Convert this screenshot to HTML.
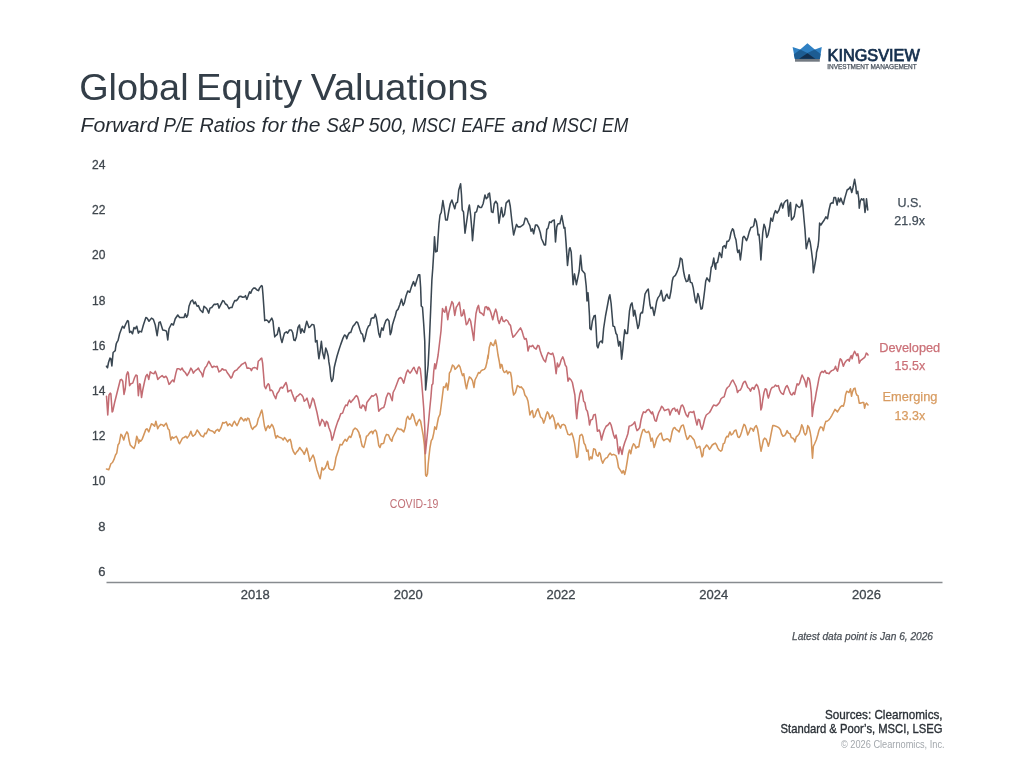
<!DOCTYPE html>
<html><head><meta charset="utf-8"><title>Global Equity Valuations</title>
<style>
html,body{margin:0;padding:0;background:#ffffff;width:1024px;height:768px;overflow:hidden}
svg{display:block;will-change:transform}
text{font-family:"Liberation Sans",Arial,sans-serif}
</style></head><body>
<svg width="1024" height="768" viewBox="0 0 1024 768">
<rect width="1024" height="768" fill="#ffffff"/>
<!-- title -->
<g font-size="36.9" fill="#333e48"><text x="79.15" y="99.7" textLength="109.44" lengthAdjust="spacingAndGlyphs">Global</text><text x="196.0" y="99.7" textLength="106.02" lengthAdjust="spacingAndGlyphs">Equity</text><text x="310.8" y="99.7" textLength="177.22" lengthAdjust="spacingAndGlyphs">Valuations</text></g>
<g font-size="19.5" font-style="italic" fill="#262c33"><text x="80.4" y="131.5" textLength="78.19" lengthAdjust="spacingAndGlyphs">Forward</text><text x="163.5" y="131.5" textLength="30.06" lengthAdjust="spacingAndGlyphs">P/E</text><text x="199.4" y="131.5" textLength="56.29" lengthAdjust="spacingAndGlyphs">Ratios</text><text x="261.6" y="131.5" textLength="24.95" lengthAdjust="spacingAndGlyphs">for</text><text x="291.22" y="131.5" textLength="29.3" lengthAdjust="spacingAndGlyphs">the</text><text x="326.28" y="131.5" textLength="37.85" lengthAdjust="spacingAndGlyphs">S&amp;P</text><text x="368.5" y="131.5" textLength="38.9" lengthAdjust="spacingAndGlyphs">500,</text><text x="411.7" y="131.5" textLength="43.97" lengthAdjust="spacingAndGlyphs">MSCI</text><text x="461.5" y="131.5" textLength="43.49" lengthAdjust="spacingAndGlyphs">EAFE</text><text x="511.6" y="131.5" textLength="35.65" lengthAdjust="spacingAndGlyphs">and</text><text x="552.1" y="131.5" textLength="44.77" lengthAdjust="spacingAndGlyphs">MSCI</text><text x="602.1" y="131.5" textLength="26.23" lengthAdjust="spacingAndGlyphs">EM</text></g>
<!-- logo -->
<g id="logo">
<polygon points="792.6,46.9 800.2,49.4 807.4,43.3 814.8,49.4 821.8,47 819.9,59 794.9,59" fill="#2f80c3"/>
<polygon points="793.8,54.4 800.2,49.4 807.4,53 814.8,49.4 820.6,54.1 819.9,59 794.9,59" fill="#1d5c92"/>
<polygon points="799.1,58.8 807.4,53.2 815.3,58.8" fill="#132f4e"/>
<rect x="795" y="59" width="24.8" height="2.7" fill="#737a82"/>
<text x="827.6" y="61.1" font-size="16.2" fill="#16304e" stroke="#16304e" stroke-width="0.75" textLength="92.2" lengthAdjust="spacingAndGlyphs">KINGSVIEW</text>
<text x="827.3" y="68.7" font-size="6.5" fill="#4a535e" stroke="#4a535e" stroke-width="0.25" textLength="89.4" lengthAdjust="spacingAndGlyphs">INVESTMENT MANAGEMENT</text>
</g>
<!-- y axis labels -->
<g font-size="13" fill="#3f464d" stroke="#3f464d" stroke-width="0.3" text-anchor="end">
<text x="105.5" y="169" textLength="13.4" lengthAdjust="spacingAndGlyphs">24</text>
<text x="105.5" y="214.2" textLength="13.4" lengthAdjust="spacingAndGlyphs">22</text>
<text x="105.5" y="259.4" textLength="13.4" lengthAdjust="spacingAndGlyphs">20</text>
<text x="105.5" y="304.6" textLength="13.4" lengthAdjust="spacingAndGlyphs">18</text>
<text x="105.5" y="349.8" textLength="13.4" lengthAdjust="spacingAndGlyphs">16</text>
<text x="105.5" y="395" textLength="13.4" lengthAdjust="spacingAndGlyphs">14</text>
<text x="105.5" y="440.2" textLength="13.4" lengthAdjust="spacingAndGlyphs">12</text>
<text x="105.5" y="485.4" textLength="13.4" lengthAdjust="spacingAndGlyphs">10</text>
<text x="105.5" y="530.6">8</text>
<text x="105.5" y="575.8">6</text>
</g>
<!-- x axis -->
<line x1="106.5" y1="582.5" x2="942.5" y2="582.5" stroke="#878b8f" stroke-width="1.3"/>
<g font-size="13" fill="#3f464d" stroke="#3f464d" stroke-width="0.3" text-anchor="middle">
<text x="255.2" y="599.3">2018</text>
<text x="408.2" y="599.3">2020</text>
<text x="561" y="599.3">2022</text>
<text x="713.8" y="599.3">2024</text>
<text x="866.5" y="599.3">2026</text>
</g>
<text x="933" y="640.4" font-size="10.2" font-style="italic" fill="#4a5057" stroke="#4a5057" stroke-width="0.25" text-anchor="end" textLength="141" lengthAdjust="spacingAndGlyphs">Latest data point is Jan 6, 2026</text>
<!-- series labels -->
<g text-anchor="middle" font-size="12.5" stroke-width="0.25">
<text x="909.7" y="206.7" fill="#434e59" stroke="#434e59">U.S.</text>
<text x="909.6" y="225.1" fill="#434e59" stroke="#434e59">21.9x</text>
<text x="909.7" y="351.5" fill="#cb7178" stroke="#cb7178" textLength="61" lengthAdjust="spacingAndGlyphs">Developed</text>
<text x="909.9" y="370.3" fill="#cb7178" stroke="#cb7178">15.5x</text>
<text x="910" y="401" fill="#d89c62" stroke="#d89c62" textLength="55" lengthAdjust="spacingAndGlyphs">Emerging</text>
<text x="909.9" y="419.8" fill="#d89c62" stroke="#d89c62">13.3x</text>
<text x="414.1" y="507.7" fill="#c27379" stroke="none" font-size="12.7" textLength="48.6" lengthAdjust="spacingAndGlyphs">COVID-19</text>
</g>
<!-- sources -->
<g text-anchor="end">
<text x="942.6" y="719.4" font-size="12.8" fill="#2b3137" stroke="#2b3137" stroke-width="0.35" textLength="117.6" lengthAdjust="spacingAndGlyphs">Sources: Clearnomics,</text>
<text x="942.6" y="732.5" font-size="12.8" fill="#2b3137" stroke="#2b3137" stroke-width="0.35" textLength="162" lengthAdjust="spacingAndGlyphs">Standard &amp; Poor’s, MSCI, LSEG</text>
<text x="944.6" y="747.7" font-size="10" fill="#a3a8ad" textLength="103.6" lengthAdjust="spacingAndGlyphs">© 2026 Clearnomics, Inc.</text>
</g>
<!-- SERIES -->
<path d="M106.50,469.00 L108.75,469.75 L109.62,467.50 L110.88,463.75 L112.50,462.50 L114.00,459.38 L115.50,455.00 L116.75,453.12 L118.00,445.00 L119.25,443.12 L120.88,434.38 L122.12,435.62 L123.75,440.00 L125.25,435.00 L126.88,431.88 L128.00,433.75 L129.00,440.00 L130.25,445.00 L132.12,446.88 L134.00,448.50 L135.25,445.00 L136.75,436.25 L137.75,438.75 L138.75,443.12 L139.62,440.00 L140.62,441.25 L142.12,439.38 L144.00,434.38 L145.88,429.38 L147.12,428.75 L148.75,431.88 L150.25,427.50 L151.50,423.75 L152.75,424.38 L154.62,426.25 L155.88,421.25 L156.50,423.75 L157.75,428.75 L159.00,426.25 L160.88,424.38 L162.75,425.00 L163.75,426.25 L164.62,425.00 L166.12,423.12 L167.12,425.62 L168.00,428.75 L169.25,430.00 L170.25,436.88 L170.88,440.00 L172.12,436.88 L173.38,438.12 L174.62,437.50 L176.25,436.25 L177.50,438.75 L178.75,442.50 L179.62,443.75 L180.88,441.25 L182.50,438.12 L184.00,437.50 L185.88,436.25 L187.12,438.12 L189.00,435.62 L190.88,431.25 L192.12,435.00 L193.00,436.25 L195.25,434.38 L197.12,430.00 L199.00,432.50 L200.88,435.62 L203.38,436.88 L205.00,433.12 L206.25,433.75 L208.38,428.75 L210.25,430.62 L212.75,431.25 L214.62,433.12 L215.88,430.62 L217.75,429.38 L219.00,431.25 L220.88,428.12 L222.75,422.50 L224.00,423.12 L226.25,421.88 L227.75,425.62 L229.62,423.75 L232.00,426.25 L233.25,423.12 L234.50,421.25 L235.75,423.75 L237.00,425.62 L238.25,423.12 L239.50,420.00 L241.00,417.50 L242.62,419.38 L243.88,421.00 L245.12,418.75 L246.38,420.62 L247.62,418.12 L248.88,418.75 L250.12,423.12 L251.38,427.50 L252.62,429.38 L253.88,427.50 L255.75,426.25 L257.00,424.38 L258.25,418.75 L259.50,416.25 L260.75,412.50 L261.75,410.00 L262.62,413.75 L263.50,420.00 L264.50,426.25 L265.75,430.62 L267.00,427.50 L268.25,425.62 L269.50,428.12 L270.75,426.25 L271.75,424.38 L273.00,426.25 L274.25,430.00 L275.12,435.00 L276.00,438.12 L277.25,435.62 L278.50,436.88 L280.12,437.50 L281.75,438.12 L283.25,440.00 L284.50,437.50 L286.00,439.38 L287.62,441.88 L288.88,440.00 L290.12,439.38 L291.00,441.88 L292.00,447.50 L293.25,451.25 L295.12,454.38 L296.75,451.88 L298.00,450.62 L299.75,447.50 L301.00,449.38 L302.62,451.25 L304.25,454.38 L305.75,450.62 L306.75,448.12 L307.62,451.25 L308.50,455.00 L309.75,461.25 L311.00,458.75 L313.00,455.00 L314.25,458.12 L315.50,463.75 L317.00,470.00 L318.88,475.62 L320.12,478.75 L321.00,473.75 L322.00,467.50 L323.25,470.00 L325.12,468.12 L326.38,465.00 L327.62,461.25 L328.88,468.12 L330.12,469.38 L332.00,470.00 L333.50,469.38 L334.75,465.00 L336.00,457.50 L337.25,453.75 L338.50,450.00 L340.12,444.38 L342.00,445.00 L343.50,441.88 L345.12,439.38 L346.75,441.25 L348.25,438.12 L349.50,436.25 L350.75,437.50 L352.00,434.38 L353.25,430.00 L355.12,428.12 L357.00,429.38 L358.88,432.50 L360.00,437.50 L360.00,435.00 L361.00,441.25 L362.25,446.25 L363.75,447.50 L365.00,443.12 L366.50,436.25 L367.75,435.62 L369.00,433.75 L370.62,431.88 L371.88,431.25 L372.75,433.75 L373.75,431.25 L375.25,430.00 L376.50,431.88 L377.75,438.75 L378.75,445.62 L380.00,447.50 L381.25,443.75 L382.50,443.75 L383.75,443.12 L385.00,437.50 L386.50,434.38 L388.50,435.00 L390.00,438.75 L391.88,441.25 L392.75,437.50 L394.00,435.00 L395.62,431.88 L397.50,428.12 L399.38,429.38 L401.25,429.38 L402.50,430.62 L403.75,431.88 L405.25,427.50 L406.50,418.75 L407.75,416.25 L409.38,419.38 L410.62,418.75 L412.25,413.75 L413.75,416.25 L415.00,421.25 L416.50,425.62 L417.75,421.88 L419.38,419.38 L420.62,421.25 L421.88,428.12 L423.12,435.00 L424.38,445.00 L425.00,455.00 L425.62,475.00 L426.50,476.25 L427.50,473.75 L428.12,465.00 L429.00,456.25 L430.00,447.50 L431.25,440.62 L432.50,438.75 L433.75,433.12 L434.75,426.88 L436.25,429.38 L437.50,422.50 L438.50,417.50 L440.00,414.38 L441.25,405.00 L442.50,395.00 L443.50,386.88 L445.00,387.50 L446.50,383.12 L447.75,390.00 L449.00,380.62 L449.38,373.12 L450.62,371.25 L452.50,365.00 L454.00,366.25 L455.00,369.38 L456.88,367.50 L458.75,365.00 L460.00,366.88 L461.50,372.50 L462.50,375.62 L463.75,373.75 L465.62,385.00 L466.50,388.75 L467.75,382.50 L469.38,376.88 L471.00,378.12 L472.50,380.62 L474.00,387.50 L475.00,380.00 L476.88,376.25 L478.50,372.50 L479.75,373.12 L481.25,370.62 L482.50,370.00 L484.38,369.38 L485.62,367.50 L486.88,362.50 L488.00,355.00 L488.00,358.75 L489.25,347.50 L490.75,342.50 L492.38,345.00 L493.62,345.62 L495.50,340.00 L496.75,346.25 L498.00,355.00 L499.25,361.25 L500.25,368.12 L501.12,364.38 L502.00,365.00 L503.00,370.00 L504.25,372.50 L505.50,371.88 L506.50,370.62 L507.75,373.75 L509.00,371.88 L510.50,372.50 L511.50,377.50 L512.38,387.50 L513.62,395.00 L515.50,392.50 L517.38,385.62 L518.62,386.25 L519.88,387.50 L521.12,386.88 L522.75,388.75 L523.62,390.00 L524.88,395.00 L526.75,397.50 L528.00,401.25 L529.00,408.12 L529.88,415.00 L531.12,411.88 L532.38,410.62 L533.62,417.50 L534.88,416.25 L536.50,411.25 L538.00,408.75 L539.25,412.50 L540.50,416.88 L542.38,418.75 L543.62,423.12 L544.88,420.00 L546.12,415.00 L547.38,411.88 L548.62,413.75 L549.88,418.75 L551.12,416.88 L552.38,415.00 L553.62,417.50 L554.88,422.50 L555.75,428.75 L556.75,425.00 L558.00,423.12 L559.25,425.62 L560.50,428.12 L561.75,425.00 L563.62,424.38 L565.25,425.62 L566.12,428.75 L568.00,434.38 L569.88,435.00 L571.75,433.12 L573.25,437.50 L574.50,443.12 L575.50,450.00 L576.50,457.50 L577.75,456.88 L579.00,442.50 L579.88,435.62 L581.75,434.38 L582.75,436.25 L584.00,443.12 L585.25,445.00 L586.75,451.25 L588.00,450.00 L589.25,460.00 L590.75,456.88 L592.00,458.75 L593.62,448.75 L595.25,449.38 L596.50,455.00 L598.00,456.25 L599.25,452.50 L600.25,453.75 L601.50,460.00 L602.75,463.12 L604.25,460.00 L605.75,458.12 L607.38,457.50 L608.62,455.00 L610.25,453.12 L611.75,455.00 L613.62,454.38 L616.00,455.62 L617.25,460.00 L618.50,467.50 L619.75,469.38 L621.00,471.25 L622.00,473.12 L623.25,470.62 L624.75,474.38 L626.00,468.75 L627.25,461.25 L628.50,453.12 L629.50,450.00 L630.75,453.75 L632.00,447.50 L633.50,443.75 L634.75,445.00 L636.00,448.12 L637.25,446.88 L638.75,446.88 L640.00,440.00 L641.62,433.75 L642.88,430.00 L644.12,429.38 L645.38,431.88 L647.00,432.50 L648.50,431.25 L649.75,434.38 L651.00,441.25 L652.25,438.12 L653.25,442.50 L654.12,447.50 L655.38,443.75 L656.62,438.75 L658.50,435.62 L660.00,433.75 L661.25,433.12 L662.50,438.75 L663.75,440.62 L665.38,439.38 L667.00,438.75 L668.50,439.38 L670.00,441.88 L671.00,437.50 L672.25,431.25 L673.50,428.12 L674.75,427.50 L676.00,429.38 L677.88,430.62 L679.12,431.88 L680.38,428.12 L681.62,425.62 L683.25,425.00 L684.50,429.38 L685.75,435.00 L687.25,439.38 L688.50,438.12 L689.75,435.62 L691.00,436.25 L692.50,438.12 L694.12,440.00 L695.38,444.38 L696.62,448.12 L698.50,446.88 L699.75,446.25 L700.75,450.62 L702.00,456.88 L702.88,455.62 L703.75,448.75 L705.00,447.50 L706.62,445.00 L707.88,446.25 L709.50,449.38 L710.75,447.50 L712.25,445.00 L714.12,443.75 L715.38,443.12 L716.62,445.00 L717.88,448.12 L719.12,450.00 L720.75,451.25 L722.00,450.00 L723.25,443.75 L724.50,443.12 L725.75,438.12 L727.00,436.25 L728.25,436.88 L729.12,433.75 L730.00,431.88 L731.25,435.00 L732.88,433.75 L734.50,430.62 L736.00,430.00 L737.00,433.75 L737.88,436.88 L739.12,437.50 L740.38,435.62 L741.62,431.88 L742.88,427.50 L744.00,424.38 L745.25,425.62 L746.50,430.00 L747.75,435.00 L749.25,431.88 L750.50,428.12 L752.12,428.75 L753.38,431.25 L754.62,427.50 L756.25,425.62 L757.50,428.75 L758.75,436.25 L760.00,445.00 L761.00,451.25 L762.12,446.25 L763.38,440.00 L764.62,438.12 L766.25,439.38 L767.50,443.12 L768.38,446.25 L769.62,441.88 L770.88,435.00 L772.75,425.62 L774.25,425.62 L775.88,426.25 L777.50,426.88 L779.25,428.12 L780.50,430.00 L781.50,433.75 L783.00,436.25 L784.62,435.62 L785.88,433.75 L787.12,430.62 L788.38,433.12 L790.00,433.75 L791.25,437.50 L792.75,438.12 L794.00,439.38 L795.00,441.88 L796.25,436.88 L797.75,435.62 L799.25,433.75 L800.50,430.00 L801.75,424.75 L803.00,427.50 L804.00,432.50 L805.25,435.00 L806.50,433.12 L807.75,425.62 L809.00,427.50 L810.25,432.50 L811.25,438.75 L811.88,450.00 L812.50,458.12 L813.38,446.25 L814.62,443.75 L816.25,440.00 L817.75,435.00 L819.00,430.00 L820.50,426.88 L822.12,427.50 L823.38,430.62 L824.62,425.00 L825.88,421.25 L827.12,421.25 L828.75,420.00 L830.25,418.12 L831.75,415.62 L833.38,412.50 L835.00,409.38 L836.25,410.62 L837.50,411.88 L839.00,409.38 L840.50,406.88 L842.12,405.62 L843.38,406.25 L844.62,401.88 L845.50,395.00 L846.75,391.25 L848.00,391.88 L849.00,392.50 L850.50,388.75 L851.50,396.25 L852.50,391.88 L853.75,388.75 L855.00,388.12 L855.88,392.50 L856.75,395.00 L858.00,395.62 L859.25,403.12 L860.88,403.12 L862.50,402.50 L863.75,402.50 L864.62,408.12 L865.50,404.38 L866.50,403.12 L868.00,405.00" fill="none" stroke="#d4965c" stroke-width="1.55" stroke-linejoin="round" stroke-linecap="round"/>
<path d="M106.50,396.25 L107.75,415.00 L109.00,395.00 L110.25,393.12 L110.88,393.75 L112.12,411.88 L112.75,411.25 L114.62,402.50 L116.50,395.00 L118.38,387.50 L120.25,380.00 L121.50,379.38 L122.75,381.25 L124.00,394.38 L125.25,388.75 L126.50,375.00 L127.75,371.88 L128.38,373.12 L129.62,385.62 L130.88,383.75 L132.75,383.12 L134.62,377.50 L135.88,375.00 L137.12,375.62 L138.38,395.62 L139.62,383.75 L140.25,384.38 L141.50,397.50 L142.75,390.00 L144.62,381.25 L145.88,376.25 L147.12,374.38 L147.75,375.62 L148.75,379.38 L150.25,371.88 L152.12,373.12 L154.00,373.75 L155.25,371.25 L156.50,374.38 L157.75,379.38 L159.62,377.50 L162.12,375.62 L164.00,377.50 L165.88,376.25 L167.12,378.12 L169.00,384.38 L170.25,383.12 L171.50,381.25 L172.75,380.00 L174.00,381.88 L175.88,373.12 L177.12,368.75 L179.00,368.75 L180.50,370.00 L182.12,368.12 L183.38,370.62 L185.25,372.50 L187.12,375.62 L189.00,372.50 L190.88,368.12 L192.12,370.00 L193.38,373.12 L195.25,370.62 L197.12,369.38 L198.38,368.12 L199.62,370.62 L201.50,373.12 L202.75,376.88 L204.00,370.62 L205.25,367.50 L206.50,366.25 L208.75,361.25 L210.25,363.75 L212.12,367.50 L214.00,366.25 L215.88,366.88 L217.12,366.25 L219.00,371.88 L220.88,370.62 L222.12,368.75 L224.00,370.00 L225.88,370.00 L227.12,372.50 L229.00,375.00 L230.88,378.12 L232.00,376.88 L233.50,372.50 L235.12,370.62 L236.75,370.00 L238.25,368.12 L240.12,366.25 L241.75,364.38 L243.50,363.50 L245.12,362.25 L246.00,364.38 L247.00,368.12 L248.88,368.12 L250.50,368.75 L251.38,370.62 L252.62,368.12 L254.50,367.50 L256.38,368.12 L257.25,369.38 L258.25,361.25 L259.75,360.00 L260.75,358.75 L261.75,358.12 L262.62,363.12 L263.50,373.75 L264.50,386.25 L265.75,388.75 L267.00,385.62 L268.25,383.75 L269.25,385.00 L270.12,390.62 L271.38,390.00 L272.62,391.25 L273.88,395.00 L275.75,398.75 L277.00,393.75 L278.88,391.25 L280.12,388.12 L281.38,387.25 L282.62,388.12 L284.50,385.00 L286.00,382.50 L287.00,385.62 L287.88,391.88 L289.50,390.62 L291.00,390.00 L292.25,393.75 L293.88,398.12 L295.12,401.25 L296.38,396.88 L298.25,395.62 L300.12,393.75 L301.75,395.00 L303.00,396.88 L304.25,401.25 L305.75,400.00 L307.00,398.12 L308.25,402.50 L309.75,408.12 L310.75,405.00 L312.62,398.12 L313.88,400.00 L315.12,405.00 L317.00,412.50 L318.25,418.75 L319.75,425.62 L320.75,423.12 L322.00,419.38 L323.88,421.88 L325.12,426.25 L326.38,421.25 L327.62,422.50 L328.88,427.50 L330.75,432.50 L332.00,440.25 L333.25,436.88 L334.50,431.88 L335.75,427.50 L337.62,421.88 L339.25,418.12 L340.75,413.75 L342.62,413.12 L344.25,408.12 L345.75,405.00 L347.25,405.62 L348.25,402.50 L349.50,400.00 L350.75,402.50 L352.25,400.62 L353.88,398.75 L355.12,396.88 L356.38,395.62 L357.62,396.88 L358.88,401.25 L360.00,407.50 L361.25,408.12 L362.50,405.00 L364.38,406.25 L365.62,410.62 L366.88,402.50 L368.75,400.00 L370.62,397.50 L371.88,395.62 L373.12,396.25 L374.75,395.00 L376.00,393.75 L377.25,397.50 L378.75,411.25 L380.25,409.38 L381.88,408.12 L383.75,407.50 L385.00,403.75 L386.25,397.50 L388.12,393.12 L389.75,393.75 L391.00,397.50 L392.25,400.62 L393.12,392.50 L395.00,388.75 L396.88,383.75 L398.75,378.75 L400.62,377.50 L401.88,378.75 L403.75,383.12 L405.00,378.12 L406.50,372.50 L407.75,370.00 L409.00,371.88 L410.00,373.12 L411.50,371.25 L412.75,368.75 L414.00,367.25 L415.00,370.00 L416.88,373.75 L418.12,368.12 L419.00,366.88 L420.25,368.75 L421.25,377.50 L422.50,392.50 L423.75,408.75 L424.75,427.50 L425.38,453.75 L428.50,422.50 L429.75,408.75 L431.00,396.25 L431.88,385.00 L432.88,383.75 L433.75,371.25 L434.75,363.75 L435.62,368.75 L436.50,364.38 L438.12,355.00 L441.00,331.00 L442.50,308.50 L443.50,311.00 L444.75,312.25 L446.00,306.62 L446.88,312.25 L447.75,319.75 L448.75,312.88 L450.00,308.50 L451.88,301.62 L453.12,303.50 L454.75,315.38 L456.25,307.25 L457.50,305.38 L459.38,302.25 L460.25,308.50 L461.25,316.00 L462.50,315.38 L463.75,309.75 L464.75,314.75 L466.25,324.75 L467.50,323.50 L469.38,318.50 L470.62,321.00 L471.88,328.50 L473.12,336.00 L473.75,340.38 L474.75,326.00 L476.00,313.50 L477.50,307.25 L478.50,305.38 L479.75,312.25 L481.88,313.50 L483.75,315.38 L485.00,307.25 L486.25,306.62 L488.00,309.75 L488.00,307.25 L489.25,308.50 L490.75,312.25 L492.75,319.75 L494.25,313.50 L495.75,309.12 L496.75,312.25 L498.00,319.75 L499.25,323.50 L500.50,319.75 L501.75,316.62 L503.00,321.00 L504.25,321.62 L506.12,319.75 L507.75,321.00 L509.25,324.12 L510.50,325.38 L511.75,332.25 L513.00,337.25 L514.88,335.38 L516.75,332.88 L518.62,330.38 L520.50,327.88 L522.00,331.00 L523.25,335.38 L524.50,339.12 L526.12,338.50 L527.00,342.25 L528.00,351.00 L529.50,346.00 L531.12,346.62 L532.75,345.38 L534.25,347.88 L536.12,349.12 L537.75,345.38 L539.00,346.00 L540.25,351.00 L541.75,355.38 L543.62,359.75 L545.50,361.88 L546.75,356.25 L548.25,352.50 L549.88,353.75 L551.12,354.38 L552.75,353.12 L554.25,358.12 L555.25,366.25 L556.12,373.75 L557.38,363.12 L558.62,366.88 L559.88,364.38 L561.12,360.00 L562.75,356.88 L564.00,360.00 L565.25,365.00 L566.50,366.88 L567.38,375.00 L568.00,381.25 L569.25,378.12 L571.12,380.00 L572.38,382.50 L573.62,388.75 L574.88,395.00 L576.12,412.50 L576.75,418.75 L578.00,405.00 L579.88,393.75 L581.12,390.00 L582.38,392.50 L583.62,401.25 L584.88,402.50 L586.12,409.38 L587.38,411.25 L588.62,417.50 L589.50,425.00 L590.75,420.00 L592.38,419.38 L593.62,415.00 L595.25,414.38 L596.12,420.00 L597.38,431.25 L599.25,430.00 L600.25,433.12 L601.50,440.00 L602.75,435.00 L604.25,430.00 L606.12,426.25 L608.00,425.00 L609.88,422.50 L611.12,425.00 L612.38,430.00 L613.62,435.00 L614.88,438.12 L616.00,435.00 L617.00,440.00 L617.88,448.75 L618.75,453.75 L620.00,446.88 L621.00,450.00 L622.00,454.38 L623.25,447.50 L624.75,442.50 L626.62,437.50 L627.88,433.75 L629.12,426.25 L631.00,425.62 L632.88,424.38 L634.75,421.88 L636.00,427.50 L637.00,430.62 L638.50,429.38 L639.75,427.50 L641.00,420.00 L642.25,415.00 L643.50,411.88 L645.38,412.50 L647.25,410.00 L648.75,409.38 L650.00,411.25 L651.62,413.75 L652.50,411.88 L653.75,416.25 L655.00,420.62 L656.25,421.25 L657.50,416.25 L658.75,412.50 L660.38,409.38 L661.62,406.25 L662.88,407.50 L664.50,410.62 L666.00,410.00 L667.50,409.38 L668.75,409.38 L670.00,415.00 L671.25,411.25 L672.88,408.75 L674.50,408.12 L675.75,411.25 L677.25,409.38 L678.25,412.50 L679.12,414.38 L680.00,410.00 L681.25,405.62 L682.50,405.00 L683.75,407.50 L685.00,411.88 L686.25,415.00 L687.88,416.88 L689.12,412.50 L690.75,411.88 L692.25,412.50 L693.75,411.25 L695.00,416.88 L696.00,421.25 L697.00,425.00 L698.25,419.38 L699.50,420.00 L700.75,426.25 L702.00,429.38 L703.25,425.00 L704.75,418.75 L706.25,415.00 L707.88,413.75 L709.50,412.50 L711.00,410.00 L712.50,406.88 L713.75,405.00 L715.38,405.62 L716.62,405.62 L717.88,404.38 L719.50,402.50 L721.00,398.75 L722.50,397.50 L724.12,396.88 L725.00,393.75 L726.25,389.38 L727.50,387.50 L729.12,386.25 L730.38,383.75 L731.62,381.25 L732.88,380.00 L734.12,382.50 L735.38,385.00 L736.25,386.88 L737.50,392.50 L738.75,390.62 L740.38,390.00 L741.62,387.50 L742.88,383.75 L744.00,381.88 L745.25,381.25 L746.50,384.38 L747.75,387.50 L749.25,388.75 L750.50,391.25 L751.75,388.12 L753.00,387.50 L754.00,389.38 L755.25,386.25 L756.50,384.38 L757.75,386.25 L759.00,390.62 L760.00,397.50 L760.88,410.00 L761.75,407.50 L762.75,400.00 L764.00,392.50 L765.25,388.75 L766.50,389.38 L767.50,395.00 L768.38,398.12 L769.62,393.75 L770.88,389.38 L772.12,387.50 L774.00,386.88 L775.50,385.00 L776.75,386.25 L778.38,385.62 L779.62,390.00 L780.88,392.50 L782.12,393.75 L783.38,394.38 L784.62,390.00 L785.88,386.88 L787.12,385.62 L788.38,388.12 L789.62,391.88 L790.88,394.38 L792.12,395.00 L793.38,392.50 L794.62,394.38 L795.88,388.75 L797.12,383.75 L798.38,385.00 L799.62,383.12 L800.88,378.75 L802.12,375.00 L803.38,377.50 L805.00,381.25 L806.25,386.88 L807.12,381.88 L808.00,377.50 L809.25,378.75 L810.25,383.75 L811.25,392.50 L811.75,402.50 L812.12,412.50 L812.25,416.50 L813.75,405.00 L815.00,400.00 L816.25,392.50 L817.75,385.00 L819.00,378.12 L820.50,373.12 L822.12,371.25 L823.38,372.50 L825.00,370.62 L826.25,373.12 L827.50,373.12 L829.00,373.75 L830.25,371.88 L831.75,370.62 L833.38,370.00 L834.62,368.75 L835.50,366.25 L836.50,369.38 L837.50,371.25 L838.38,367.50 L839.25,362.50 L840.25,358.75 L841.50,360.00 L842.75,364.38 L843.38,366.25 L844.62,363.12 L845.88,361.25 L847.12,360.00 L848.38,359.38 L849.25,361.25 L850.25,357.50 L851.25,355.62 L852.12,358.75 L853.00,355.00 L854.62,351.25 L855.88,353.75 L856.75,355.62 L857.75,353.75 L858.38,356.25 L859.25,363.12 L860.50,360.62 L862.12,359.38 L863.75,358.12 L865.00,356.88 L866.25,353.12 L867.12,353.75 L868.00,355.00" fill="none" stroke="#c36c73" stroke-width="1.55" stroke-linejoin="round" stroke-linecap="round"/>
<path d="M106.50,366.25 L107.50,367.75 L108.50,362.50 L110.00,358.12 L110.88,358.75 L111.88,366.00 L113.12,352.50 L114.25,351.50 L115.25,350.62 L115.62,347.50 L116.25,343.75 L117.12,341.88 L118.00,340.62 L119.62,333.75 L121.50,328.75 L122.50,326.25 L124.00,328.12 L125.88,323.75 L127.50,320.62 L128.38,321.25 L129.62,332.50 L130.88,331.25 L132.50,333.75 L134.00,327.50 L135.25,328.75 L136.75,326.25 L138.38,333.12 L139.62,331.25 L141.50,331.88 L143.38,325.00 L145.88,317.50 L147.12,318.12 L149.00,321.25 L151.50,318.12 L153.38,319.38 L155.25,325.00 L157.12,335.62 L159.00,322.50 L160.25,321.88 L162.75,330.00 L165.25,330.62 L166.50,331.25 L167.75,340.00 L169.00,328.75 L171.50,323.75 L173.38,325.00 L175.25,318.75 L177.75,315.00 L179.62,317.50 L184.00,317.50 L185.25,313.75 L186.50,317.25 L187.75,315.00 L189.00,306.25 L190.88,301.25 L192.50,300.00 L194.00,303.75 L195.25,301.88 L197.12,306.25 L198.38,305.62 L200.25,310.00 L202.75,312.50 L204.00,306.25 L205.50,307.50 L206.75,308.75 L208.75,313.12 L210.00,308.12 L211.75,307.50 L214.00,304.38 L215.88,304.38 L217.75,303.75 L219.00,308.12 L220.88,304.38 L222.75,300.62 L224.00,301.25 L225.25,303.75 L227.12,305.00 L229.00,308.75 L230.25,307.50 L232.00,307.50 L233.25,303.75 L234.75,300.62 L236.38,300.62 L237.62,299.38 L239.25,296.50 L240.75,296.25 L242.62,297.25 L244.50,296.88 L245.50,295.62 L246.75,299.38 L248.00,296.25 L249.50,291.88 L250.75,293.12 L252.00,290.00 L253.50,288.12 L255.12,288.12 L257.00,290.00 L258.50,290.62 L259.50,288.12 L261.38,285.62 L262.25,286.25 L263.00,295.00 L263.88,307.50 L264.75,320.62 L266.38,320.00 L267.62,320.62 L268.88,322.50 L270.12,320.62 L271.75,318.12 L273.00,321.25 L273.88,330.00 L274.75,336.88 L275.75,335.62 L277.25,334.38 L278.88,327.50 L279.75,331.25 L280.75,338.12 L282.00,342.50 L283.25,337.50 L284.50,333.12 L286.38,331.88 L287.62,333.12 L289.50,330.00 L291.38,330.00 L292.62,332.50 L293.88,340.00 L295.12,340.62 L296.38,336.88 L298.00,327.50 L299.50,325.00 L300.75,333.12 L302.00,328.75 L303.25,331.25 L304.25,332.50 L305.50,326.25 L306.75,321.25 L307.62,323.75 L308.88,327.50 L310.12,326.88 L312.00,324.38 L313.88,325.00 L314.75,330.00 L315.50,341.88 L317.00,340.62 L318.00,351.25 L318.88,358.75 L320.12,351.25 L321.38,341.25 L322.62,352.50 L324.25,358.75 L325.75,348.12 L327.00,351.25 L328.25,356.25 L328.88,361.88 L329.75,366.88 L330.75,377.50 L331.75,381.50 L333.00,378.75 L334.25,367.50 L335.12,363.75 L337.00,356.25 L338.88,350.00 L340.75,344.38 L343.00,338.12 L344.50,335.00 L345.75,335.62 L346.75,338.75 L348.00,335.00 L349.50,332.50 L350.75,332.50 L352.00,328.75 L353.00,326.25 L354.75,324.38 L356.38,321.88 L357.62,322.50 L358.88,326.25 L360.00,330.00 L361.25,333.50 L362.50,334.12 L364.00,341.62 L365.25,337.25 L366.88,329.75 L368.50,326.00 L369.75,325.38 L371.25,318.50 L372.50,317.88 L374.00,317.88 L375.25,314.12 L376.25,317.25 L377.50,324.75 L378.75,333.50 L380.00,337.25 L381.00,331.00 L381.88,327.88 L383.12,330.38 L384.38,324.75 L386.00,320.38 L387.50,319.12 L389.00,321.00 L390.25,334.75 L391.25,332.25 L392.50,324.75 L394.00,319.75 L395.25,316.00 L396.50,311.00 L398.12,309.12 L399.75,304.75 L401.50,299.12 L403.12,305.38 L404.38,302.88 L406.00,296.00 L407.75,291.00 L409.75,292.25 L411.50,286.62 L413.50,281.62 L415.00,286.00 L416.88,279.75 L418.50,274.75 L419.75,274.75 L420.62,287.25 L421.25,306.00 L422.50,307.25 L423.75,324.75 L424.75,341.00 L425.62,390.00 L426.88,377.50 L428.12,365.00 L429.38,341.00 L430.62,311.00 L431.88,280.00 L432.75,268.50 L433.88,250.00 L434.50,236.88 L435.62,251.88 L437.12,251.25 L438.12,236.25 L439.00,223.75 L440.00,215.00 L441.25,212.50 L442.88,200.62 L444.38,210.00 L445.62,220.00 L447.25,220.00 L448.75,211.25 L450.25,203.75 L451.88,200.00 L453.50,205.00 L454.75,208.75 L456.00,203.12 L457.50,202.25 L458.75,190.00 L460.62,183.75 L461.50,195.00 L462.25,210.00 L463.50,211.88 L465.00,233.12 L466.88,220.00 L468.50,208.75 L469.38,205.00 L470.62,215.00 L471.88,230.00 L472.50,240.62 L473.75,226.25 L475.00,212.50 L476.50,211.88 L478.12,205.62 L480.00,207.50 L481.50,207.50 L483.12,203.75 L485.00,195.00 L486.25,198.75 L488.00,196.88 L488.00,194.38 L489.50,193.12 L490.50,201.25 L491.50,211.88 L493.00,212.50 L494.25,203.75 L495.75,201.25 L497.38,203.75 L499.00,223.12 L500.25,215.00 L501.50,207.50 L503.00,216.88 L504.50,214.38 L506.12,203.12 L507.75,201.25 L509.00,200.00 L510.25,206.25 L511.75,220.00 L513.62,235.00 L515.25,228.75 L516.50,224.38 L518.00,226.88 L520.25,226.88 L522.00,225.62 L523.62,224.38 L525.25,218.12 L526.75,218.75 L528.25,222.50 L529.88,225.62 L531.12,231.25 L532.38,228.75 L533.62,233.75 L535.50,225.00 L537.00,225.00 L538.62,227.50 L540.25,232.50 L541.50,238.75 L543.00,241.88 L544.25,245.00 L545.50,245.00 L546.75,229.38 L548.00,228.12 L549.50,221.88 L551.12,222.50 L552.38,220.62 L554.25,220.00 L555.50,241.88 L556.75,226.88 L558.00,223.75 L559.88,223.75 L561.75,215.62 L563.00,222.50 L564.00,228.12 L564.88,227.50 L566.10,243.40 L567.50,265.50 L569.30,249.00 L570.00,247.70 L571.20,252.00 L573.10,284.70 L574.50,273.90 L576.40,284.70 L579.20,271.00 L580.60,255.20 L582.00,270.20 L584.80,273.40 L586.20,286.00 L586.50,291.00 L587.00,301.00 L588.00,292.88 L588.62,301.00 L589.50,316.00 L589.88,328.50 L591.12,329.75 L592.38,321.00 L594.00,316.00 L595.25,315.38 L596.12,328.50 L597.00,346.00 L598.00,347.88 L599.50,342.25 L601.12,341.00 L602.38,342.88 L603.62,328.50 L605.50,316.00 L607.38,306.00 L609.00,297.25 L609.88,294.75 L611.12,303.50 L612.38,318.50 L613.00,326.00 L614.50,326.62 L616.00,333.50 L617.00,334.75 L617.88,341.00 L618.75,346.00 L619.75,341.62 L620.50,342.25 L621.62,359.12 L622.88,348.50 L623.75,338.50 L624.75,329.75 L626.00,333.50 L627.50,333.50 L628.50,322.25 L629.50,311.00 L630.75,304.75 L632.00,302.88 L632.88,308.50 L633.50,316.00 L634.75,310.38 L636.00,317.25 L637.00,323.50 L637.88,328.50 L639.12,324.75 L640.38,314.12 L641.62,312.25 L642.50,312.88 L643.75,303.50 L645.00,294.12 L646.62,291.00 L648.25,289.12 L649.12,297.25 L650.00,304.75 L651.00,308.50 L652.50,307.25 L654.12,315.38 L655.38,309.12 L656.62,301.62 L657.88,297.88 L659.75,295.38 L661.25,290.38 L662.25,296.00 L663.25,301.00 L664.50,300.38 L665.75,296.00 L667.00,294.12 L668.25,297.88 L669.50,298.50 L671.00,291.00 L672.25,281.00 L673.25,277.25 L675.38,275.38 L676.62,272.88 L677.88,269.75 L679.12,266.00 L680.38,258.12 L682.00,259.38 L683.50,271.00 L684.75,277.25 L686.25,281.62 L687.88,281.00 L689.12,274.75 L690.38,282.25 L692.00,282.88 L693.25,287.88 L694.50,296.00 L695.38,301.00 L696.25,302.88 L697.88,293.50 L699.12,297.25 L700.00,303.50 L701.00,309.12 L702.25,308.50 L703.50,299.75 L704.75,289.75 L705.75,281.00 L707.00,277.88 L708.50,280.38 L709.50,281.62 L710.38,274.75 L711.25,267.25 L712.25,266.00 L713.75,258.12 L715.00,267.25 L715.75,269.12 L716.00,263.12 L717.50,262.50 L718.50,257.50 L719.50,252.50 L720.75,255.00 L721.62,257.50 L722.88,246.88 L724.50,245.62 L725.75,248.12 L727.00,241.25 L728.50,241.25 L729.75,238.75 L731.00,232.50 L732.50,228.75 L733.50,230.00 L734.75,236.25 L736.00,240.00 L737.25,250.00 L737.88,252.50 L739.12,250.00 L740.38,260.00 L741.62,250.00 L742.88,237.50 L744.00,236.25 L745.25,238.12 L746.50,240.62 L747.75,237.50 L749.25,231.88 L750.88,227.50 L752.75,226.88 L753.75,225.62 L755.00,218.75 L756.25,221.25 L757.50,228.75 L758.00,235.00 L759.00,234.38 L760.00,245.00 L760.88,260.00 L761.75,247.50 L762.75,232.50 L764.00,224.38 L765.25,227.50 L766.75,237.50 L768.00,235.00 L769.62,227.50 L770.88,218.12 L772.50,221.25 L774.00,214.38 L775.50,210.62 L777.12,213.12 L779.00,210.00 L780.50,205.00 L781.50,203.12 L782.75,208.12 L784.00,203.12 L785.88,200.62 L787.50,200.00 L788.00,207.50 L788.75,216.25 L789.62,205.62 L790.50,202.50 L791.50,220.00 L792.75,218.75 L794.25,216.25 L795.25,210.00 L796.25,204.38 L797.75,206.25 L799.25,207.50 L800.88,206.25 L801.88,200.00 L802.75,205.00 L803.75,216.25 L805.00,230.00 L806.25,248.75 L807.50,243.75 L809.00,238.12 L810.25,242.50 L811.50,251.25 L812.75,261.25 L813.38,272.75 L815.00,263.75 L816.25,256.25 L816.50,252.50 L818.00,246.25 L818.75,240.00 L819.62,223.12 L820.88,225.00 L822.50,222.50 L824.25,220.00 L825.88,216.88 L827.50,218.75 L829.00,210.00 L830.50,203.75 L832.12,202.75 L833.00,203.12 L834.00,197.50 L835.50,197.50 L837.12,205.00 L838.38,198.12 L839.62,201.88 L840.88,198.12 L842.12,201.88 L843.38,204.38 L844.62,198.75 L845.88,194.38 L847.12,190.00 L849.00,188.75 L850.25,186.88 L851.75,192.50 L853.00,187.50 L854.62,179.38 L855.88,186.88 L856.50,193.75 L857.75,191.25 L858.75,198.75 L859.25,208.12 L860.25,201.25 L861.50,198.75 L862.75,200.00 L863.75,198.75 L865.00,212.50 L865.88,206.25 L866.50,198.75 L867.75,210.00" fill="none" stroke="#3a4752" stroke-width="1.55" stroke-linejoin="round" stroke-linecap="round"/>
<!-- /SERIES -->
</svg>
</body></html>
